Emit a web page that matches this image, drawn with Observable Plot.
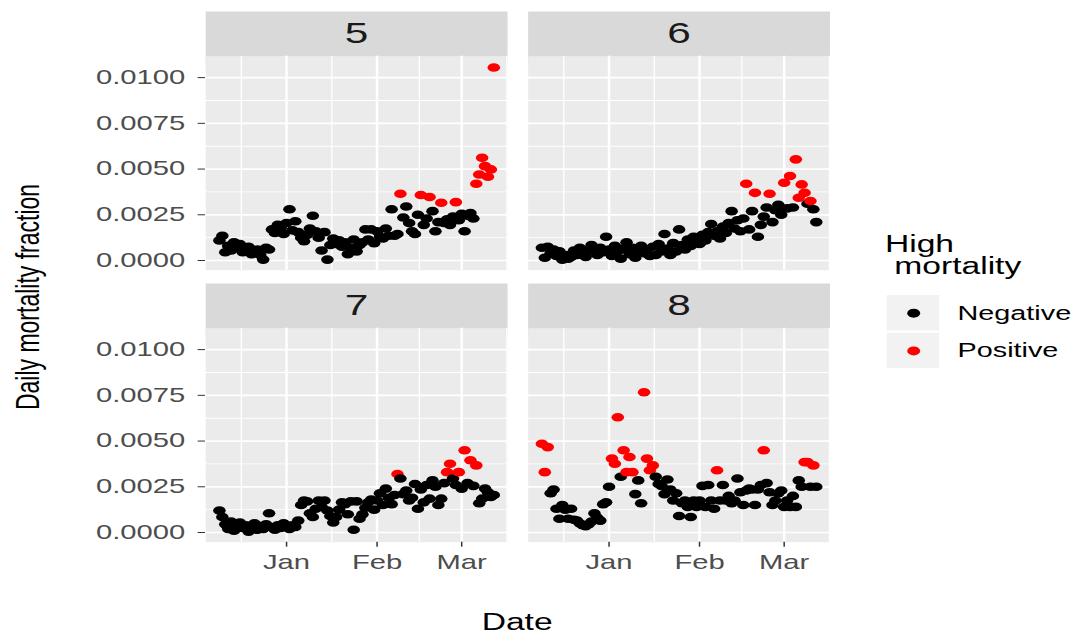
<!DOCTYPE html>
<html>
<head>
<meta charset="utf-8">
<script src="https://cdn.jsdelivr.net/npm/d3@7"></script>
<script src="https://cdn.jsdelivr.net/npm/@observablehq/plot@0.6"></script>
<style>
html, body { margin: 0; padding: 0; background: #ffffff; }
#wrap { position: relative; width: 740px; height: 635px; transform: scaleX(1.4608); transform-origin: 0 0;
        font-family: "Liberation Sans", Arial, Helvetica, sans-serif; }
#chart { position: absolute; left: 0; top: 0; }
.title { position: absolute; color: #000000; font-size: 23px; line-height: 23px; white-space: nowrap; }
#ytitle { left: 18.5px; top: 297px; transform: translate(-50%, -50%) rotate(-90deg); }
#xtitle { left: 354px; top: 610.5px; transform: translateX(-50%); }
#legtitle { left: 605.8px; top: 234.3px; line-height: 21.5px; white-space: pre; }
#legend { position: absolute; left: 607px; top: 295px; }
</style>
</head>
<body>
<div id="wrap">
  <div id="chart"></div>
  <div class="title" id="ytitle">Daily mortality fraction</div>
  <div class="title" id="xtitle">Date</div>
  <div class="title" id="legtitle">High
 mortality</div>
  <div id="legend"></div>
</div>
<script>
// ---- data ----
const startDate = "2019-12-09";            // first daily observation
const panels = ["5", "6", "7", "8"];
const panelCol = [0, 1, 0, 1];
const panelRow = [0, 0, 1, 1];

const values5 = [
  0.0011, 0.00135, 0.00045, 0.0008, 0.00055, 0.001, 0.0007, 0.0009, 0.00045, 0.0006,
  0.00075, 0.00035, 0.0005, 0.0006, 0.0003, 0.00005, 0.0007, 0.0006, 0.0017, 0.0015,
  0.00195, 0.0018, 0.00145, 0.00205, 0.0028, 0.00165, 0.00215, 0.00155, 0.00125, 0.00105,
  0.0014, 0.00175, 0.00245, 0.0016, 0.00125, 0.00055, 0.00155, 0.00005, 0.00085, 0.0012,
  0.0009, 0.0011, 0.00075, 0.001, 0.00035, 0.0007, 0.00115, 0.0005, 0.00085, 0.001,
  0.0017, 0.00115, 0.0017, 0.00095, 0.0016, 0.0013, 0.0012, 0.00175, 0.00135, 0.0028,
  0.00135, 0.00145, 0.00365, 0.00235, 0.00295, 0.00205, 0.0016, 0.00145, 0.0025, 0.00358,
  0.00195, 0.0023, 0.00347, 0.0027, 0.0016, 0.0021, 0.00316, 0.00205, 0.00225, 0.00195,
  0.0024, 0.00319, 0.0022, 0.00255, 0.0016, 0.00245, 0.0026, 0.0023, 0.0042, 0.0047,
  0.00562, 0.00516, 0.00458, 0.00498, 0.01055
];
const values6 = [
  0.0007, 0.00015, 0.00075, 0.0004, 0.0006, 0.00025, 0.0005, 0.00005, 0.0003, 0.0001,
  0.0002, 0.00055, 0.0003, 0.0007, 0.0004, 0.0002, 0.0006, 0.00085, 0.0005, 0.0003,
  0.0007, 0.00045, 0.0013, 0.0006, 0.00025, 0.0008, 0.0005, 0.0001, 0.00065, 0.001,
  0.00035, 0.0007, 0.00015, 0.00055, 0.0008, 0.0004, 0.0006, 0.00025, 0.00075, 0.0003,
  0.0009, 0.0005, 0.00145, 0.00065, 0.0003, 0.00095, 0.0005, 0.0017, 0.00085, 0.0006,
  0.00115, 0.0008, 0.0013, 0.001, 0.0009, 0.0014, 0.0011, 0.00155, 0.002, 0.00135,
  0.0016, 0.0012, 0.00185, 0.0015, 0.00205, 0.0027, 0.00175, 0.0022, 0.0016, 0.0023,
  0.0042, 0.0017, 0.0027, 0.0037, 0.0013, 0.00195, 0.0024, 0.0029, 0.00365, 0.0021,
  0.00275, 0.00305, 0.0025, 0.00425, 0.00285, 0.00462, 0.0029, 0.00553, 0.00343, 0.00416,
  0.0037, 0.0031, 0.00325, 0.0028, 0.0021
];
const values7 = [
  0.0012, 0.00085, 0.00045, 0.0002, 0.0006, 0.0001, 0.00035, 0.00055, 0.00025, 0.0004,
  0.00005, 0.0003, 0.0005, 0.00015, 0.00035, 0.0002, 0.00045, 0.00105, 0.0003, 0.00015,
  0.0004, 0.00025, 0.0005, 0.00035, 0.0002, 0.0004, 0.0003, 0.00065, 0.0015, 0.00175,
  0.0017, 0.00105, 0.00085, 0.0013, 0.00175, 0.0014, 0.00175, 0.0012, 0.0009, 0.00055,
  0.00085, 0.00125, 0.00165, 0.00155, 0.001, 0.0017, 0.00015, 0.0017, 0.00075, 0.001,
  0.00135, 0.00165, 0.0018, 0.00125, 0.00175, 0.00215, 0.0015, 0.0024, 0.0019, 0.00155,
  0.00205, 0.0032, 0.00295, 0.0021, 0.0023, 0.00175, 0.0019, 0.00265, 0.0013, 0.00235,
  0.00165, 0.0026, 0.00185, 0.00285, 0.0025, 0.0015, 0.00185, 0.0027, 0.0033, 0.00376,
  0.00295, 0.0026, 0.0033, 0.0024, 0.0045, 0.0027, 0.00395, 0.00255, 0.00367, 0.0016,
  0.00185, 0.0024, 0.0022, 0.00195, 0.00205
];
const values8 = [
  0.00485, 0.0033, 0.00467, 0.00215, 0.00235, 0.0013, 0.00075, 0.0015, 0.00125, 0.00075,
  0.0013, 0.0007, 0.00065, 0.0005, 0.0004, 0.00035, 0.00045, 0.0006, 0.00105, 0.0008,
  0.00065, 0.00155, 0.00165, 0.0025, 0.00404, 0.00376, 0.0063, 0.00305, 0.0045, 0.0033,
  0.00413, 0.0033, 0.0021, 0.00285, 0.0016, 0.00767, 0.00404, 0.0034, 0.00367, 0.00305,
  0.00265, 0.00255, 0.0021, 0.0029, 0.00235, 0.00175, 0.00215, 0.0009, 0.0016, 0.00175,
  0.0014, 0.00085, 0.00175, 0.0014, 0.00175, 0.00255, 0.0014, 0.0026, 0.00175, 0.0013,
  0.0034, 0.00175, 0.0026, 0.00175, 0.002, 0.0016, 0.00175, 0.00295, 0.0022, 0.0015,
  0.0023, 0.0024, 0.00235, 0.0015, 0.00235, 0.0026, 0.0045, 0.0027, 0.0022, 0.0015,
  0.00175, 0.00215, 0.0023, 0.0014, 0.00175, 0.0014, 0.002, 0.0014, 0.00285, 0.0025,
  0.00385, 0.00385, 0.0025, 0.00367, 0.0025
];

// days flagged as high mortality (red)
const positive5 = ["2020-02-09", "2020-02-16", "2020-02-19", "2020-02-23", "2020-02-28",
  "2020-03-06", "2020-03-07", "2020-03-08", "2020-03-09", "2020-03-10", "2020-03-11", "2020-03-12"];
const positive6 = ["2020-02-17", "2020-02-20", "2020-02-25", "2020-03-01", "2020-03-03",
  "2020-03-05", "2020-03-06", "2020-03-07", "2020-03-08", "2020-03-10"];
const positive7 = ["2020-02-08", "2020-02-25", "2020-02-26", "2020-02-29", "2020-03-02",
  "2020-03-04", "2020-03-06"];
const positive8 = ["2019-12-09", "2019-12-10", "2019-12-11", "2020-01-02", "2020-01-03",
  "2020-01-04", "2020-01-06", "2020-01-07", "2020-01-08", "2020-01-09", "2020-01-13",
  "2020-01-14", "2020-01-15", "2020-01-16", "2020-02-07", "2020-02-23", "2020-03-08",
  "2020-03-09", "2020-03-11"];

const statusLabels = ["Negative", "Positive"];
const statusColors = ["#000000", "#FF0000"];

const xTicks = ["2020-01-01", "2020-02-01", "2020-03-01"];
const xMinor = ["2019-12-16T12:00Z", "2020-01-16T12:00Z", "2020-02-15T12:00Z", "2020-03-16T12:00Z"];
const xDomain = ["2019-12-04T07:00Z", "2020-03-16T17:00Z"];
const yTicks = [0, 0.0025, 0.005, 0.0075, 0.01];
const yMinor = [0.00125, 0.00375, 0.00625, 0.00875];
const yDomain = [-0.00053, 0.01117];

// ---- build table ----
const seriesValues = [values5, values6, values7, values8];
const seriesPositive = [positive5, positive6, positive7, positive8];
const t0 = new Date(startDate + "T00:00Z");
const fmtDay = d3.utcFormat("%Y-%m-%d");
const rows = [];
panels.forEach((p, k) => {
  const pos = new Set(seriesPositive[k]);
  seriesValues[k].forEach((v, i) => {
    const date = d3.utcDay.offset(t0, i);
    rows.push({panel: p, col: panelCol[k], row: panelRow[k], date, value: v,
               status: pos.has(fmtDay(date)) ? "Positive" : "Negative"});
  });
});

const font = '"Liberation Sans", Arial, Helvetica, sans-serif';

const chart = Plot.plot({
  width: 590,
  height: 635,
  marginLeft: 140.3,
  marginRight: 22.3,
  marginTop: 55.7,
  marginBottom: 93.3,
  style: {fontFamily: font, fontSize: "20px", color: "#4D4D4D", background: "transparent", overflow: "visible"},
  fx: {domain: [0, 1], paddingInner: 0.0639, paddingOuter: 0, round: false, axis: null, label: null},
  fy: {domain: [0, 1], paddingInner: 0.2132, paddingOuter: 0, round: false, axis: null, label: null},
  x: {type: "utc", domain: xDomain.map(d => new Date(d)), label: null},
  y: {domain: yDomain, label: null},
  color: {domain: statusLabels, range: statusColors},
  marks: [
    Plot.frame({fill: "#D9D9D9", stroke: null, insetTop: -44.7, insetBottom: 205}),
    Plot.frame({fill: "#EBEBEB", stroke: null}),
    Plot.ruleX(xMinor.map(d => new Date(d)), {stroke: "#FFFFFF", strokeWidth: 0.9}),
    Plot.ruleY(yMinor, {stroke: "#FFFFFF", strokeWidth: 0.9}),
    Plot.ruleX(xTicks.map(d => new Date(d)), {stroke: "#FFFFFF", strokeWidth: 1.7}),
    Plot.ruleY(yTicks, {stroke: "#FFFFFF", strokeWidth: 1.7}),
    Plot.dot(rows, {fx: "col", fy: "row", x: "date", y: "value", fill: "status", r: 4.3}),
    Plot.axisX({ticks: xTicks.map(d => new Date(d)), tickFormat: d3.utcFormat("%b"),
                tickSize: 5, tickPadding: 8, stroke: "#333333", fill: "#4D4D4D", label: null}),
    Plot.axisY({ticks: yTicks, tickFormat: d3.format(".4f"),
                tickSize: 5, tickPadding: 9, stroke: "#333333", fill: "#4D4D4D", label: null}),
    Plot.text(panels, {fx: (d, i) => panelCol[i], fy: (d, i) => panelRow[i], text: d => d,
                       frameAnchor: "top", lineAnchor: "middle", dy: -22.4, fontSize: 29, fill: "#1A1A1A"})
  ]
});
document.getElementById("chart").appendChild(chart);

const legendPlot = Plot.plot({
  width: 135,
  height: 74.3,
  margin: 0,
  style: {fontFamily: font, fontSize: "20px", color: "#000000", background: "transparent", overflow: "visible"},
  x: {type: "band", domain: ["key"], range: [0, 36.5], padding: 0, round: false, axis: null},
  y: {type: "band", domain: statusLabels, range: [0, 74.3], paddingInner: 0.06, paddingOuter: 0, round: false, axis: null},
  color: {domain: statusLabels, range: statusColors},
  marks: [
    Plot.cell(statusLabels, {x: () => "key", y: d => d, fill: "#F2F2F2"}),
    Plot.dot(statusLabels, {x: () => "key", y: d => d, fill: d => d, r: 4.5}),
    Plot.text(statusLabels, {x: () => "key", y: d => d, text: d => d, textAnchor: "start",
                             dx: 30.5, fill: "#000000", fontSize: 20})
  ]
});
document.getElementById("legend").appendChild(legendPlot);
</script>
</body>
</html>
